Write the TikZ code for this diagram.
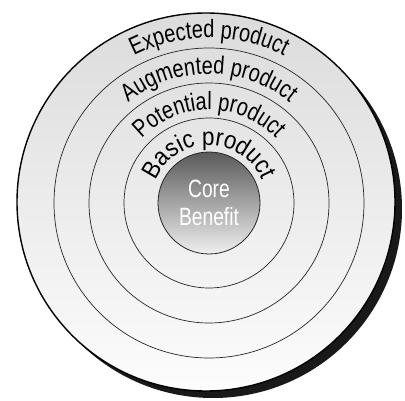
\documentclass[tikz,border=0pt]{standalone}
\usepackage{fontspec}
\setmainfont{Liberation Sans}
\newfontfamily\narrowfont[FakeStretch=0.8]{Liberation Sans}
\newfontfamily\widerfont[FakeStretch=0.9]{Liberation Sans}
\newfontfamily\corefont[FakeStretch=0.77]{Liberation Sans}
\usetikzlibrary{decorations.text,calc}
\tikzset{
  ring/.style={draw=black!85, line width=0.7pt},
  ringtext/.style={decorate, decoration={text along path, text align=center}},
}
\newcommand{\rtfont}{\narrowfont\fontsize{25}{25}\selectfont}
\newcommand{\rtfontb}{\widerfont\fontsize{25}{25}\selectfont}
\begin{document}
\begin{tikzpicture}[x=1pt,y=1pt]
\useasboundingbox (0,0) rectangle (405,400);
\coordinate (c) at (209,197);
\coordinate (oc) at (206,198);
% shadow
\fill[black!90] ($(oc)+(7,-7)$) circle[radius=189];
% outer disc
\shade[top color=black!14, bottom color=black!1, draw=black, line width=1.4pt] (oc) circle[radius=189];
\node[circle, minimum size=310pt, ring] (aug) at (c) {};
\node[circle, minimum size=240pt, ring] (pot) at (c) {};
\node[circle, minimum size=170pt, ring] (bas) at (c) {};
\node[circle, minimum size=102pt, draw=black!85, line width=0.8pt, top color=black!65, bottom color=black!6, text=white, align=center, font=\corefont\fontsize{25}{28}\selectfont, inner sep=0pt] (core) at (c) {Core\\Benefit};
% labels
\path[ringtext, decoration={text={|\rtfont|Expected product}}] (c) ++(150:165) arc[start angle=150, end angle=30, radius=165];
\path[ringtext, decoration={text={|\rtfont|Augmented product}}] (c) ++(160:129) arc[start angle=160, end angle=20, radius=129];
\path[ringtext, decoration={text={|\rtfont|Potential product}}] (c) ++(170:93) arc[start angle=170, end angle=10, radius=93];
\path[ringtext, decoration={text={|\rtfontb|Basic product}}] (c) ++(178:58) arc[start angle=178, end angle=2, radius=58];
\end{tikzpicture}
\end{document}
